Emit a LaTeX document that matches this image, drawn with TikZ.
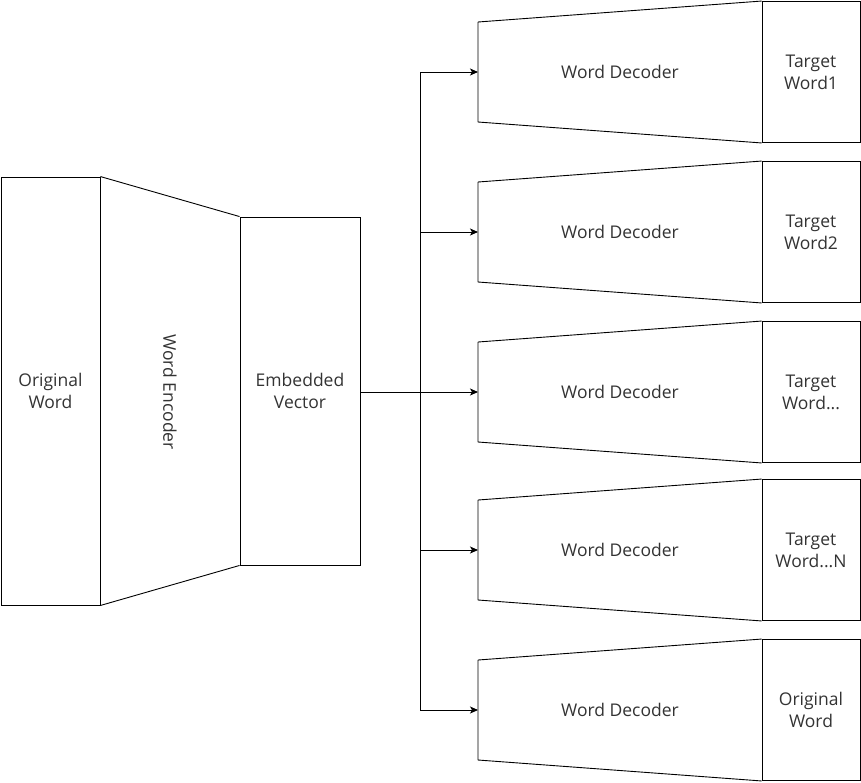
\documentclass[tikz,border=0pt]{standalone}
\usepackage{fontspec}
\setmainfont{Open Sans}
\usetikzlibrary{arrows.meta,positioning}
\definecolor{txtgray}{HTML}{333333}
\tikzset{
  blk/.style={draw, line width=0.9pt, inner sep=0pt, align=center, text=txtgray, font=\fontsize{17.5}{22}\selectfont},
  trap/.style={line width=0.9pt},
  lbl/.style={text=txtgray, font=\fontsize{17.5}{22}\selectfont},
  arr/.style={-{Stealth[length=8pt,width=7pt,inset=2pt]}, line width=0.9pt},
}
\begin{document}
\begin{tikzpicture}[x=1pt,y=-1pt]
  \useasboundingbox (0,0) rectangle (861,782);
  % encoder side
  \node[blk, minimum width=99pt, minimum height=428pt] (orig) at (50.5,391) {Original\\Word};
  \node[blk, minimum width=120pt, minimum height=348pt] (emb) at (300,391) {Embedded\\Vector};
  \draw[trap] (orig.north east) -- (emb.north west);
  \draw[trap] (orig.south east) -- (emb.south west);
  \node[lbl, rotate=-90] (enc) at (170,392) {Word Encoder};
  % split point
  \coordinate (split) at (420,392);
  \draw[line width=0.9pt] (emb.east |- split) -- (split);
  % decoders
  \foreach \i/\c/\txt in {1/72/{Target\\Word1}, 2/232/{Target\\Word2}, 3/392/{Target\\Word...},
                         4/550/{Target\\Word...N}, 5/710/{Original\\Word}}{
    \node[blk, minimum width=98pt, minimum height=141pt] (tgt\i) at (811,\c) {\txt};
    \coordinate (dec\i) at (478,\c);
    \draw[trap] (478,\c-50) -- (tgt\i.north west) (478,\c+50) -- (tgt\i.south west)
      (478,\c-50) -- (478,\c+50);
    \node[lbl] (declbl\i) at (620,\c) {Word Decoder};
    \draw[arr] (split) |- (dec\i);
  }
\end{tikzpicture}
\end{document}
